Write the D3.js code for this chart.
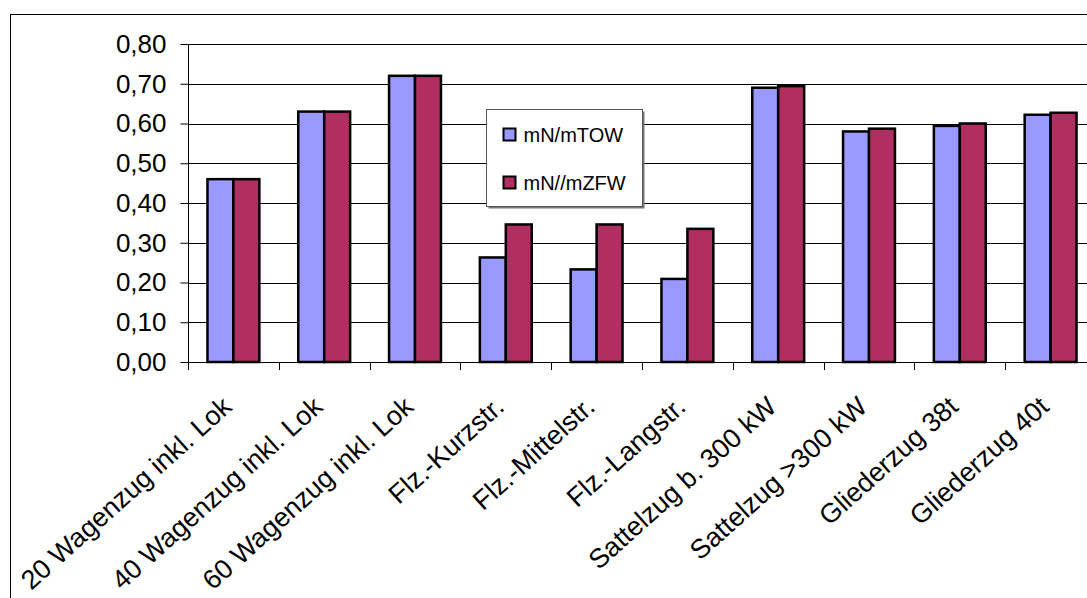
<!DOCTYPE html>
<html>
<head>
<meta charset="utf-8">
<script src="https://cdn.jsdelivr.net/npm/d3@7"></script>
<style>
  html, body { margin: 0; padding: 0; background: #fff; }
  svg { display: block; font-family: Arial, "Liberation Sans", sans-serif; }
</style>
</head>
<body>
<svg id="chart" width="1087" height="598"></svg>
<script>
const categories = ["20 Wagenzug inkl. Lok", "40 Wagenzug inkl. Lok", "60 Wagenzug inkl. Lok",
  "Flz.-Kurzstr.", "Flz.-Mittelstr.", "Flz.-Langstr.", "Sattelzug b. 300 kW",
  "Sattelzug >300 kW", "Gliederzug 38t", "Gliederzug 40t"];
const seriesNames = ["mN/mTOW", "mN//mZFW"];
const mTOW = [0.46, 0.63, 0.72, 0.263, 0.233, 0.209, 0.690, 0.580, 0.594, 0.622];
const mZFW = [0.46, 0.63, 0.72, 0.346, 0.346, 0.335, 0.694, 0.587, 0.600, 0.627];
const yTickValues = [0, 0.1, 0.2, 0.3, 0.4, 0.5, 0.6, 0.7, 0.8];
const colors = ["#9999FF", "#B02E62"];

(function () {
const svg = d3.select("#chart");
const pL = 188, pR = 1096, pT = 44, pB = 362;

const locale = d3.formatLocale({decimal: ",", thousands: ".", grouping: [3], currency: ["", "€"]});
const fmt = locale.format(".2f");

// outer chart border
svg.append("rect").attr("x", 10.5).attr("y", 14.5).attr("width", 1100).attr("height", 700)
  .attr("fill", "#fff").attr("stroke", "#000").attr("stroke-width", 1);

const x = d3.scaleBand().domain(categories).range([pL, pR]).paddingInner(0).paddingOuter(0);
const x1 = d3.scaleBand().domain(seriesNames).range([0, x.bandwidth()]).paddingInner(0).paddingOuter(0.75);
const y = d3.scaleLinear().domain([0, 0.8]).range([pB, pT]);

// gridlines
svg.append("g").selectAll("line").data(yTickValues.slice(1)).join("line")
  .attr("x1", pL).attr("x2", pR)
  .attr("y1", d => Math.round(y(d)) + 0.5).attr("y2", d => Math.round(y(d)) + 0.5)
  .attr("stroke", "#000").attr("stroke-width", 1);

// y axis
const yAxis = d3.axisLeft(y).tickValues(yTickValues).tickFormat(fmt).tickSize(8).tickPadding(14);
const gy = svg.append("g").attr("transform", `translate(${pL + 0.5},0)`).call(yAxis);
gy.select(".domain").attr("stroke", "#000").attr("d", `M0,${pT}V${pB}`);
gy.selectAll(".tick line").attr("stroke", "#000");
gy.selectAll(".tick text").attr("font-size", 26).attr("fill", "#000")
  .attr("font-family", "Arial, 'Liberation Sans', sans-serif");

// bars
const data = categories.map((c, i) => ({cat: c, vals: [mTOW[i], mZFW[i]]}));
const groups = svg.append("g").selectAll("g").data(data).join("g")
  .attr("transform", d => `translate(${x(d.cat)},0)`);
groups.selectAll("rect").data(d => d.vals.map((v, j) => ({s: seriesNames[j], v, j}))).join("rect")
  .attr("x", d => x1(d.s)).attr("width", x1.bandwidth())
  .attr("y", d => y(d.v)).attr("height", d => y(0) - y(d.v))
  .attr("fill", d => colors[d.j]).attr("stroke", "#000").attr("stroke-width", 2.5);

// x axis
const xAxis = d3.axisBottom(x).tickSize(0).tickFormat("");
const gx = svg.append("g").attr("transform", `translate(0,${pB + 0.5})`).call(xAxis);
gx.select(".domain").attr("stroke", "#000").attr("d", `M${pL},0H${pR}`);
// category boundary ticks
const boundaries = d3.range(categories.length + 1).map(i => pL + i * x.step());
svg.append("g").selectAll("line").data(boundaries).join("line")
  .attr("x1", d => Math.round(d) + 0.5).attr("x2", d => Math.round(d) + 0.5)
  .attr("y1", pB).attr("y2", pB + 8).attr("stroke", "#000");

// category labels
svg.append("g").selectAll("text").data(categories).join("text")
  .attr("transform", d => `translate(${x(d) + x.bandwidth() / 2},409) rotate(-42)`)
  .attr("text-anchor", "end").attr("font-size", 27).attr("fill", "#000")
  .text(d => d);

// legend
const lg = svg.append("g").attr("transform", "translate(486.5,109.5)");
lg.append("rect").attr("x", 2).attr("y", 2).attr("width", 156).attr("height", 97).attr("fill", "#777");
lg.append("rect").attr("width", 156).attr("height", 97).attr("fill", "#fff").attr("stroke", "#555").attr("stroke-width", 1);
const items = lg.selectAll("g.item").data(seriesNames).join("g").attr("class", "item")
  .attr("transform", (d, i) => `translate(17,${19 + i * 48})`);
items.append("rect").attr("width", 12).attr("height", 12)
  .attr("fill", (d, i) => colors[i]).attr("stroke", "#000").attr("stroke-width", 2);
items.append("text").attr("x", 20).attr("y", 6).attr("dy", "0.35em")
  .attr("font-size", 20).attr("fill", "#000").text(d => d);
})();
</script>
</body>
</html>
